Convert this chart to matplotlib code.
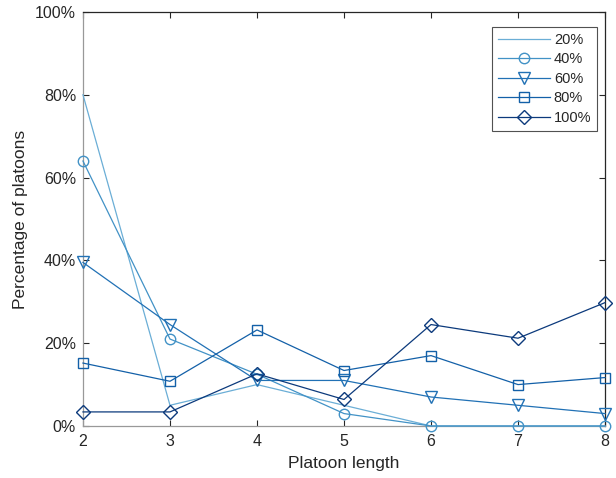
import matplotlib.pyplot as plt
from matplotlib.ticker import PercentFormatter

plt.rcParams['font.family'] = ['Liberation Sans', 'DejaVu Sans']

# platoon length on x, share of platoons (%) on y
lengths = [2, 3, 4, 5, 6, 7, 8]
series_names = ['20%', '40%', '60%', '80%', '100%']
pen_20 = [80, 5, 10, 5, 0, 0, 0]
pen_40 = [64, 21, 12.5, 3, 0, 0, 0]
pen_60 = [39.5, 24.5, 11, 11, 7, 5, 3]
pen_80 = [15.2, 10.8, 23.2, 13.4, 17, 10, 11.7]
pen_100 = [3.4, 3.4, 12.6, 6.4, 24.5, 21.2, 29.8]

colors = ['#6baed6', '#4292c6', '#2171b5', '#1360a8', '#0c3a7c']
markers = ['None', 'o', 'v', 's', 'D']
sizes = [0, 7.5, 8.5, 6.5, 7]

fig = plt.figure(figsize=(6.16, 4.78), dpi=100)
ax = fig.add_axes([0.1347, 0.1088, 0.8475, 0.8662])

all_series = [pen_20, pen_40, pen_60, pen_80, pen_100]
for vals, name, c, m, ms in zip(all_series, series_names, colors, markers, sizes):
    ax.plot(lengths, vals, color=c, marker=m, ms=ms, mfc='none', mec=c,
            mew=1.0, lw=0.9, label=name, clip_on=False, zorder=3)

ax.set_xlim(2, 8)
ax.set_ylim(0, 100)
ax.set_xticks(lengths)
ax.set_yticks([0, 20, 40, 60, 80, 100])
ax.yaxis.set_major_formatter(PercentFormatter(decimals=0))
ax.tick_params(direction='in', length=4, width=0.8, labelsize=11.5,
               colors='#262626', top=True, right=True, pad=5)
ax.tick_params(axis='x', pad=6)
ax.spines['left'].set_color('#999999')
ax.spines['bottom'].set_color('#999999')
ax.spines['top'].set_color('#262626')
ax.spines['right'].set_color('#262626')
for s in ax.spines.values():
    s.set_linewidth(0.9)

ax.set_xlabel('Platoon length', fontsize=12.5, color='#262626', labelpad=5)
ax.set_ylabel('Percentage of platoons', fontsize=12.5, color='#262626', labelpad=5)

leg = ax.legend(loc='upper right', bbox_to_anchor=(0.985, 0.964), fontsize=10.5,
                frameon=True, fancybox=False, edgecolor='#262626',
                borderpad=0.4, labelspacing=0.38, handlelength=3.6,
                handletextpad=0.25, borderaxespad=0.0, markerfirst=True)
leg.get_frame().set_linewidth(0.8)
for t in leg.get_texts():
    t.set_color('#262626')

fig.savefig('out.png', dpi=100)
